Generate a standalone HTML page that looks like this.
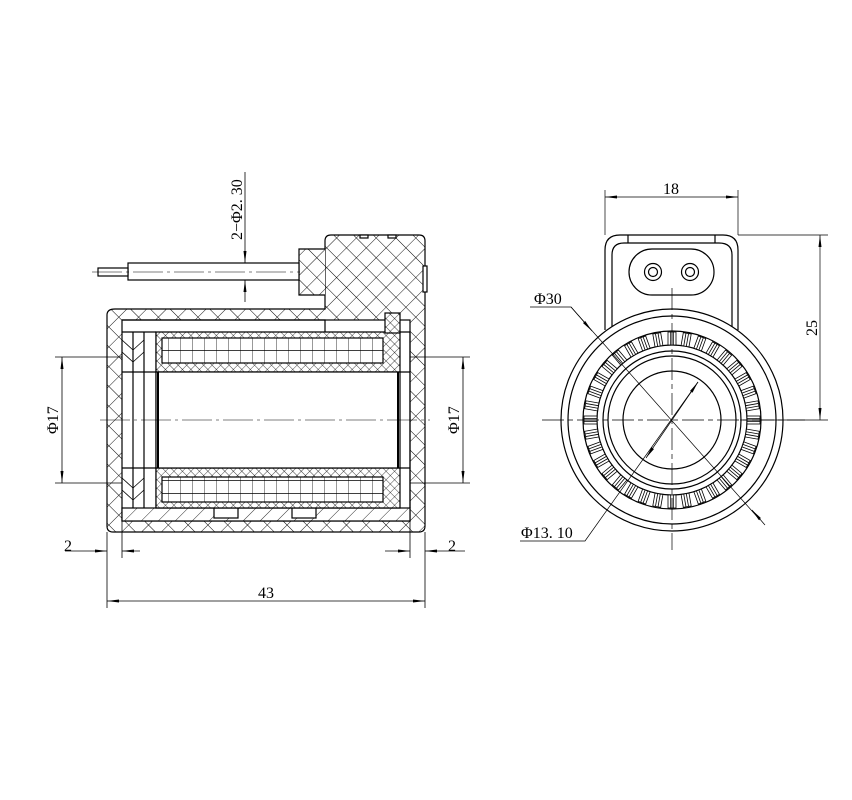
<!DOCTYPE html>
<html><head><meta charset="utf-8"><style>
html,body{margin:0;padding:0;background:#fff}
svg{display:block}
text{font-family:"Liberation Serif",serif;font-size:16px;fill:#000}
</style></head><body>
<svg width="852" height="800" viewBox="0 0 852 800" xmlns="http://www.w3.org/2000/svg">
<defs>
<pattern id="xh" width="14" height="14" patternUnits="userSpaceOnUse" patternTransform="rotate(45)">
<rect width="14" height="14" fill="#fff"/><path d="M0 0H14M0 0V14" stroke="#000" stroke-width="0.9"/></pattern>
<pattern id="xs" width="6" height="6" patternUnits="userSpaceOnUse" patternTransform="rotate(45)">
<rect width="6" height="6" fill="#fff"/><path d="M0 0H6M0 0V6" stroke="#000" stroke-width="0.7"/></pattern>
<pattern id="dg" width="12" height="12" patternUnits="userSpaceOnUse" patternTransform="rotate(45)">
<rect width="12" height="12" fill="#fff"/><path d="M0 0V12" stroke="#000" stroke-width="0.8"/></pattern>
<pattern id="coil" width="12" height="13" patternUnits="userSpaceOnUse">
<rect width="12" height="13" fill="#fff"/><path d="M0 0V13M0 12.5H12" stroke="#000" stroke-width="0.8"/></pattern>
<marker id="ar" markerWidth="12" markerHeight="6" refX="12" refY="3" orient="auto" markerUnits="userSpaceOnUse">
<path d="M0 1.5L12 3L0 4.5Z" fill="#000"/></marker>
<g id="slot" stroke="#000" stroke-width="0.8" fill="#fff">
<rect x="-4" y="-88" width="8" height="13"/><path d="M-1.3 -88V-75M1.3 -88V-75"/></g>
</defs>

<g stroke="#000" fill="none" stroke-width="1.2">
<path d="M115 309H325V241Q325 235 331 235H419Q425 235 425 241V526Q425 532 419 532H113Q107 532 107 526V315Q107 309 115 309Z" fill="url(#xh)"/>
<path d="M325 249H299V295H325" fill="url(#xh)"/>
<rect x="423" y="266" width="4" height="26" fill="#fff"/>
<rect x="360" y="235" width="8" height="3" fill="#fff"/><rect x="388" y="235" width="8" height="3" fill="#fff"/>
<rect x="128" y="263" width="171" height="17" fill="#fff"/>
<rect x="98" y="268" width="30" height="8" fill="#fff"/>
<rect x="122" y="320" width="288" height="201" fill="#fff"/>
<path d="M122 320H325V332" />
<rect x="122" y="508" width="288" height="13" fill="url(#dg)"/>
<rect x="214" y="508" width="24" height="10" fill="#fff"/><rect x="292" y="508" width="24" height="10" fill="#fff"/>
<path d="M122 332H156M122 372H156M122 468H156M133 332V508M144 332V508M156 332V508"/>
<path d="M122 340L133 350L144 340M122 352L133 362L144 352M122 478L133 488L144 478M122 490L133 500L144 490" stroke-width="0.8"/>
<path d="M156 332H400V372H156Z" fill="url(#xs)"/>
<rect x="162" y="338" width="221" height="25" fill="url(#coil)"/>
<rect x="385" y="313" width="15" height="20" fill="url(#xs)"/>
<path d="M156 468H400V508H156Z" fill="url(#xs)"/>
<rect x="162" y="477" width="221" height="25" fill="url(#coil)"/>
<rect x="156" y="372" width="244" height="96" fill="#fff"/>
<path d="M158 372V468M398 372V468" stroke-width="2"/>
<path d="M400 332H410V508M400 372H410M400 468H410"/>
<path d="M100 420H430" stroke-width="0.6" stroke-dasharray="30 4 3 4"/>
<path d="M92 272H300" stroke-width="0.6" stroke-dasharray="30 4 3 4"/>
</g>

<g stroke="#000" stroke-width="0.8" fill="none">
<path d="M55 357H122M55 483H122M410 357H470M410 483H470"/>
<path d="M62 420V357" marker-end="url(#ar)"/><path d="M62 420V483" marker-end="url(#ar)"/>
<path d="M463 420V357" marker-end="url(#ar)"/><path d="M463 420V483" marker-end="url(#ar)"/>
<path d="M107 532V608M122 521V558M410 521V558M425 532V608"/>
<path d="M65 551H107" marker-end="url(#ar)"/><path d="M140 551H122" marker-end="url(#ar)"/>
<path d="M385 551H410" marker-end="url(#ar)"/><path d="M465 551H425" marker-end="url(#ar)"/>
<path d="M266 601H107" marker-end="url(#ar)"/><path d="M266 601H425" marker-end="url(#ar)"/>
<path d="M245 172V263" marker-end="url(#ar)"/><path d="M245 302V280" marker-end="url(#ar)"/>
</g>
<text x="258" y="598">43</text>
<text x="64" y="551">2</text><text x="448" y="551">2</text>
<text transform="translate(58 434) rotate(-90)">Φ17</text>
<text transform="translate(459 434) rotate(-90)">Φ17</text>
<text transform="translate(242 240) rotate(-90)">2−Φ2. 30</text>

<g stroke="#000" fill="none" stroke-width="1.2">
<path d="M605 330V250Q605 235 620 235H723Q738 235 738 250V330" fill="#fff"/>
<path d="M612 330V255Q612 243 624 243H719Q732 243 732 255V330"/>
<path d="M628 235V243M715 235V243"/>
<path d="M652 249H691A23 23 0 0 1 691 295H652A23 23 0 0 1 652 249Z"/>
<circle cx="653" cy="272" r="8.5"/><circle cx="653" cy="272" r="4.5"/>
<circle cx="690" cy="272" r="8.5"/><circle cx="690" cy="272" r="4.5"/>
<circle cx="672" cy="420" r="111" fill="#fff"/>
<circle cx="672" cy="420" r="104"/>
<circle cx="672" cy="420" r="89"/>
<circle cx="672" cy="420" r="75"/>
<circle cx="672" cy="420" r="69"/>
<circle cx="672" cy="420" r="64"/>
<circle cx="672" cy="420" r="49"/>
</g>
<g transform="translate(672 420)">
<use href="#slot" transform="rotate(0)"/><use href="#slot" transform="rotate(10)"/><use href="#slot" transform="rotate(20)"/><use href="#slot" transform="rotate(30)"/><use href="#slot" transform="rotate(40)"/><use href="#slot" transform="rotate(50)"/><use href="#slot" transform="rotate(60)"/><use href="#slot" transform="rotate(70)"/><use href="#slot" transform="rotate(80)"/><use href="#slot" transform="rotate(90)"/><use href="#slot" transform="rotate(100)"/><use href="#slot" transform="rotate(110)"/><use href="#slot" transform="rotate(120)"/><use href="#slot" transform="rotate(130)"/><use href="#slot" transform="rotate(140)"/><use href="#slot" transform="rotate(150)"/><use href="#slot" transform="rotate(160)"/><use href="#slot" transform="rotate(170)"/><use href="#slot" transform="rotate(180)"/><use href="#slot" transform="rotate(190)"/><use href="#slot" transform="rotate(200)"/><use href="#slot" transform="rotate(210)"/><use href="#slot" transform="rotate(220)"/><use href="#slot" transform="rotate(230)"/><use href="#slot" transform="rotate(240)"/><use href="#slot" transform="rotate(250)"/><use href="#slot" transform="rotate(260)"/><use href="#slot" transform="rotate(270)"/><use href="#slot" transform="rotate(280)"/><use href="#slot" transform="rotate(290)"/><use href="#slot" transform="rotate(300)"/><use href="#slot" transform="rotate(310)"/><use href="#slot" transform="rotate(320)"/><use href="#slot" transform="rotate(330)"/><use href="#slot" transform="rotate(340)"/><use href="#slot" transform="rotate(350)"/>
</g>
<g stroke="#000" stroke-width="0.7" fill="none">
<path d="M542 420H805" stroke-dasharray="22 4 5 4"/>
<path d="M672 288V550" stroke-dasharray="22 4 5 4"/>
<path d="M530 307H571L760 520"/>
<path d="M571 307L592 331" marker-end="url(#ar)"/>
<path d="M765 525L752 510" marker-end="url(#ar)"/>
<path d="M520 541H585L698 382"/>
<path d="M672 420L698 382" marker-end="url(#ar)"/>
<path d="M672 420L646 458" marker-end="url(#ar)"/>
<path d="M605 190V235M738 190V235"/>
<path d="M671 197H605" marker-end="url(#ar)"/><path d="M671 197H738" marker-end="url(#ar)"/>
<path d="M738 235H828M740 420H828"/>
<path d="M820 327V235" marker-end="url(#ar)"/><path d="M820 327V420" marker-end="url(#ar)"/>
</g>
<text x="534" y="304">Φ30</text>
<text x="521" y="538">Φ13. 10</text>
<text x="663" y="194">18</text>
<text transform="translate(817 336) rotate(-90)">25</text>
</svg>
</body></html>
